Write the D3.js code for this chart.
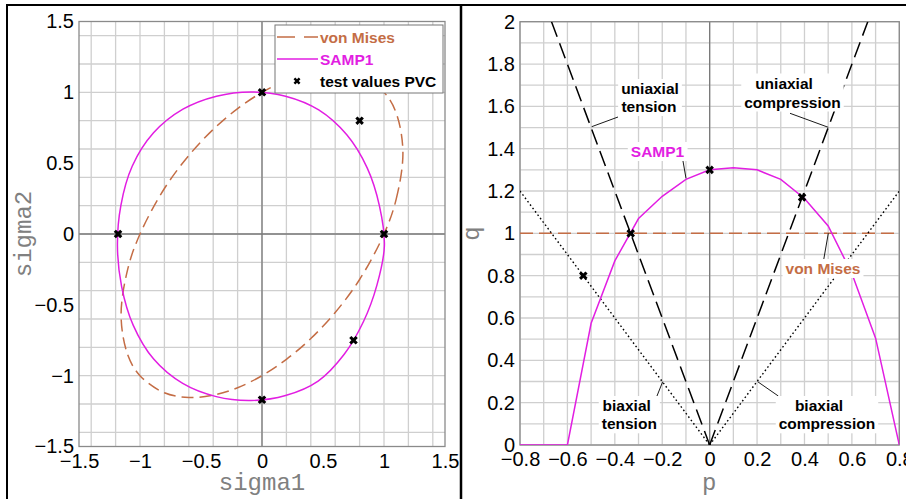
<!DOCTYPE html>
<html>
<head>
<meta charset="utf-8">
<script src="https://cdn.jsdelivr.net/npm/d3@7"></script>
<style>
  body { margin: 0; background: #fff; }
  svg { display: block; }
  .tick text { font-family: 'Liberation Sans Narrow', 'Arial Narrow', 'Liberation Sans', sans-serif; font-size: 20px; fill: #000; }
  .ann { font-family: 'Liberation Sans', Arial, sans-serif; font-weight: bold; font-size: 15.5px; }
  .ttl { font-family: 'Liberation Mono', 'Courier New', monospace; font-size: 24px; fill: #808080; }
</style>
</head>
<body>
<div id="chart"></div>
<script>
// ---- data ----
// left panel: principal stress plane
const sigmaTicks = [-1.5, -1, -0.5, 0, 0.5, 1, 1.5]
const samp1Sigma = [
  [1.003, -0.085], [0.963, 0.197], [0.863, 0.465], [0.695, 0.700], [0.465, 0.876],
  [0.193, 0.973], [-0.09, 1.003], [-0.373, 0.973], [-0.648, 0.881], [-0.889, 0.714],
  [-1.064, 0.478], [-1.157, 0.201], [-1.185, -0.085], [-1.151, -0.369], [-1.056, -0.643],
  [-0.888, -0.883], [-0.65, -1.055], [-0.375, -1.148], [-0.09, -1.175], [0.193, -1.140],
  [0.46, -1.038], [0.674, -0.849], [0.832, -0.618], [0.942, -0.361]
]
const vonMisesSigma = [
  [1, 0], [1.1, 0.246], [1.155, 0.577], [1.1, 0.854], [1, 1], [0.8, 1.121], [0.6, 1.154],
  [0.4, 1.138], [0.2, 1.085], [0, 1], [-0.2, 0.885], [-0.4, 0.738], [-0.6, 0.554],
  [-0.8, 0.321], [-1, 0], [-1.1, -0.246], [-1.155, -0.577], [-1.1, -0.854], [-1, -1],
  [-0.8, -1.121], [-0.6, -1.154], [-0.4, -1.138], [-0.2, -1.085], [0, -1], [0.2, -0.885],
  [0.4, -0.738], [0.6, -0.554], [0.8, -0.321]
]
const testSigma = [[0, 1], [1, 0], [-1.18, 0], [0, -1.17], [0.75, -0.75], [0.8, 0.8]]

// right panel: p-q plane
const pTicks = [-0.8, -0.6, -0.4, -0.2, 0, 0.2, 0.4, 0.6, 0.8]
const qTicks = [0, 0.2, 0.4, 0.6, 0.8, 1, 1.2, 1.4, 1.6, 1.8, 2]
const samp1P = [-0.8, -0.7, -0.6, -0.5, -0.4, -0.3, -0.2, -0.1, 0, 0.1, 0.2, 0.3, 0.4, 0.5, 0.6, 0.7, 0.8]
const samp1Q = [0, 0, 0, 0.575, 0.87, 1.07, 1.175, 1.255, 1.30, 1.31, 1.30, 1.255, 1.165, 1.035, 0.81, 0.505, 0]
const vonMisesPQ = [[-0.8, 1], [0.8, 1]]
const uniTension = [[-0.667, 2], [0, 0]]
const uniCompression = [[0, 0], [0.667, 2]]
const biTension = [[-0.8, 1.2], [0, 0]]
const biCompression = [[0, 0], [0.8, 1.2]]
const testPQ = [[0, 1.3], [-0.333, 1], [0.39, 1.17], [-0.533, 0.8]]

const MAGENTA = '#e21ee2'
const BROWN = '#c46d45'

const W = 906, H = 499
const svg = d3.select('#chart').append('svg').attr('width', W).attr('height', H)
svg.append('rect').attr('width', W).attr('height', H).attr('fill', '#fff')

// figure frame
svg.append('rect').attr('x', 7).attr('y', 5).attr('width', 1000).attr('height', 1000)
  .attr('fill', 'none').attr('stroke', '#000').attr('stroke-width', 2)
svg.append('line').attr('x1', 461).attr('x2', 461).attr('y1', 5).attr('y2', H)
  .attr('stroke', '#000').attr('stroke-width', 2.5)

const fmt = d3.format('~g')

function panel(id, box, xDom, yDom, xTicks, yTicks, nx, ny) {
  const x = d3.scaleLinear().domain(xDom).range([box.x0, box.x1])
  const y = d3.scaleLinear().domain(yDom).range([box.y1, box.y0])
  const g = svg.append('g').attr('id', id)

  g.append('clipPath').attr('id', id + '-clip').append('rect')
    .attr('x', box.x0).attr('y', box.y0).attr('width', box.x1 - box.x0).attr('height', box.y1 - box.y0)

  // grid
  g.append('g').selectAll('line').data(x.ticks(nx)).join('line')
    .attr('x1', d => x(d)).attr('x2', d => x(d)).attr('y1', box.y0).attr('y2', box.y1)
    .attr('stroke', '#cfcfcf').attr('stroke-width', 1.3)
  g.append('g').selectAll('line').data(y.ticks(ny)).join('line')
    .attr('y1', d => y(d)).attr('y2', d => y(d)).attr('x1', box.x0).attr('x2', box.x1)
    .attr('stroke', '#cfcfcf').attr('stroke-width', 1.3)

  // zero lines
  if (xDom[0] < 0) g.append('line').attr('x1', x(0)).attr('x2', x(0)).attr('y1', box.y0).attr('y2', box.y1)
    .attr('stroke', '#7a7a7a').attr('stroke-width', 1.3)
  if (yDom[0] < 0) g.append('line').attr('y1', y(0)).attr('y2', y(0)).attr('x1', box.x0).attr('x2', box.x1)
    .attr('stroke', '#7a7a7a').attr('stroke-width', 1.3)

  g.append('rect').attr('x', box.x0).attr('y', box.y0)
    .attr('width', box.x1 - box.x0).attr('height', box.y1 - box.y0)
    .attr('fill', 'none').attr('stroke', '#8a8a8a').attr('stroke-width', 1.3)

  // axes (labels only)
  g.append('g').attr('transform', `translate(0,${box.y1})`)
    .call(d3.axisBottom(x).tickValues(xTicks).tickFormat(fmt).tickSize(0).tickPadding(7))
    .call(a => a.select('.domain').remove())
  g.append('g').attr('transform', `translate(${box.x0},0)`)
    .call(d3.axisLeft(y).tickValues(yTicks).tickFormat(fmt).tickSize(0).tickPadding(5))
    .call(a => a.select('.domain').remove())
  g.selectAll('.tick text').attr('font-family', null).attr('font-size', null)

  const plot = g.append('g').attr('clip-path', `url(#${id}-clip)`)
  return { x, y, g, plot }
}

function marks(sel, pts, x, y) {
  sel.append('g').selectAll('path').data(pts).join('path')
    .attr('d', d3.symbol(d3.symbolCross, 46))
    .attr('transform', d => `translate(${x(d[0])},${y(d[1])}) rotate(45)`)
    .attr('fill', '#000')
}

function label(sel, lines, color) {
  const t = sel.append('g')
  lines.forEach(l => {
    t.append('text').attr('class', 'ann').attr('x', l[0]).attr('y', l[1])
      .attr('text-anchor', 'middle').attr('fill', color).text(l[2])
  })
  const bb = t.node().getBBox()
  t.insert('rect', 'text').attr('x', bb.x - 3).attr('y', bb.y - 1)
    .attr('width', bb.width + 6).attr('height', bb.height + 2).attr('fill', '#fff')
}

function leader(sel, a, b) {
  sel.append('line').attr('x1', a[0]).attr('y1', a[1]).attr('x2', b[0]).attr('y2', b[1])
    .attr('stroke', '#000').attr('stroke-width', 0.9)
}

// ---- left panel ----
const L = panel('left', { x0: 79, x1: 445, y0: 21.5, y1: 446.5 }, [-1.5, 1.5], [-1.5, 1.5], sigmaTicks, sigmaTicks, 12, 12)
const closed = d3.line().x(d => L.x(d[0])).y(d => L.y(d[1])).curve(d3.curveCatmullRomClosed)
L.plot.append('path').attr('d', closed(vonMisesSigma)).attr('fill', 'none')
  .attr('stroke', BROWN).attr('stroke-width', 1.5).attr('stroke-dasharray', '12,6')
L.plot.append('path').attr('d', closed(samp1Sigma)).attr('fill', 'none')
  .attr('stroke', MAGENTA).attr('stroke-width', 1.5)
marks(L.plot, testSigma, L.x, L.y)

L.g.append('text').attr('class', 'ttl').attr('x', 262).attr('y', 490).attr('text-anchor', 'middle').text('sigma1')
L.g.append('text').attr('class', 'ttl').attr('text-anchor', 'middle')
  .attr('transform', 'translate(31,234) rotate(-90)').text('sigma2')

// legend
const lg = L.g.append('g')
lg.append('rect').attr('x', 275).attr('y', 25).attr('width', 168).attr('height', 68)
  .attr('fill', '#fff').attr('stroke', '#777').attr('stroke-width', 1)
const legendItems = [
  { name: 'von Mises', color: BROWN, dash: '18,9', y: 37 },
  { name: 'SAMP1', color: MAGENTA, dash: null, y: 59 },
  { name: 'test values PVC', color: '#000', dash: 'mark', y: 81 }
]
legendItems.forEach(it => {
  if (it.dash === 'mark') {
    lg.append('path').attr('d', d3.symbol(d3.symbolCross, 30))
      .attr('transform', `translate(297,${it.y}) rotate(45)`).attr('fill', '#000')
  } else {
    lg.append('line').attr('x1', 277).attr('x2', 318).attr('y1', it.y).attr('y2', it.y)
      .attr('stroke', it.color).attr('stroke-width', 1.5).attr('stroke-dasharray', it.dash)
  }
  lg.append('text').attr('class', 'ann').attr('x', 320).attr('y', it.y + 5.5)
    .attr('fill', it.color).text(it.name)
})

// ---- right panel ----
const R = panel('right', { x0: 520, x1: 899.3, y0: 21.7, y1: 445 }, [-0.8, 0.8], [0, 2], pTicks, qTicks, 16, 20)
const seg = d3.line().x(d => R.x(d[0])).y(d => R.y(d[1]))
R.plot.append('path').attr('d', seg(vonMisesPQ)).attr('fill', 'none')
  .attr('stroke', BROWN).attr('stroke-width', 1.5).attr('stroke-dasharray', '13,6')
;[uniTension, uniCompression].forEach(l => R.plot.append('path').attr('d', seg(l)).attr('fill', 'none')
  .attr('stroke', '#000').attr('stroke-width', 1.5).attr('stroke-dasharray', '16,7'))
;[biTension, biCompression].forEach(l => R.plot.append('path').attr('d', seg(l)).attr('fill', 'none')
  .attr('stroke', '#000').attr('stroke-width', 1.4).attr('stroke-dasharray', '1.6,2.6'))
R.plot.append('path').attr('d', seg(samp1P.map((p, i) => [p, samp1Q[i]]))).attr('fill', 'none')
  .attr('stroke', MAGENTA).attr('stroke-width', 1.5)
marks(R.plot, testPQ, R.x, R.y)

// annotations
const an = R.g.append('g')
leader(an, [591.7, 126.7], [618, 117])
label(an, [[650, 94, 'uniaxial'], [649, 112, 'tension']], '#000')
leader(an, [790, 113.3], [828.3, 127.3])
label(an, [[784, 88.5, 'uniaxial'], [792.5, 107.5, 'compression']], '#000')
leader(an, [682.7, 159.3], [686, 178.3])
label(an, [[657.5, 157, 'SAMP1']], MAGENTA)
leader(an, [828.3, 233.3], [823.3, 262])
label(an, [[823, 274, 'von Mises']], BROWN)
leader(an, [656.7, 396.7], [662.7, 381.7])
label(an, [[626.7, 411, 'biaxial'], [629.3, 429.3, 'tension']], '#000')
leader(an, [757.7, 381.7], [778.3, 396])
label(an, [[819, 411, 'biaxial'], [827, 429.3, 'compression']], '#000')

R.g.append('text').attr('class', 'ttl').attr('x', 709.3).attr('y', 490).attr('text-anchor', 'middle').text('p')
R.g.append('text').attr('class', 'ttl').attr('text-anchor', 'middle')
  .attr('transform', 'translate(479,233.5) rotate(-90)').text('q')
</script>
</body>
</html>
